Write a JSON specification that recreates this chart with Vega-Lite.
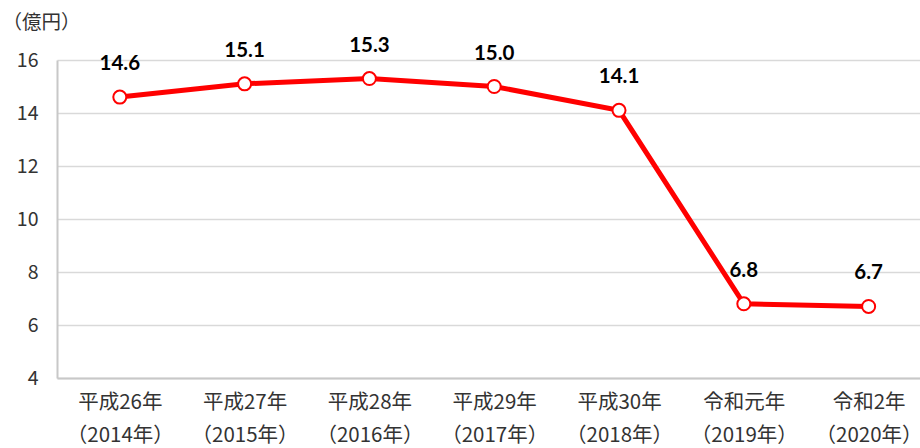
{
  "$schema": "https://vega.github.io/schema/vega-lite/v6.json",
  "autosize": {"type": "none"},
  "width": 863,
  "height": 318,
  "padding": {"left": 57, "top": 60, "right": 0, "bottom": 70},
  "background": "white",
  "config": {"view": {"stroke": null}, "font": "Noto Sans CJK JP"},
  "data": {"values": [
    {"year": "平成26年|（2014年）", "value": 14.6},
    {"year": "平成27年|（2015年）", "value": 15.1},
    {"year": "平成28年|（2016年）", "value": 15.3},
    {"year": "平成29年|（2017年）", "value": 15.0},
    {"year": "平成30年|（2018年）", "value": 14.1},
    {"year": "令和元年|（2019年）", "value": 6.8},
    {"year": "令和2年|（2020年）", "value": 6.7}
  ]},
  "encoding": {
    "x": {"field": "year", "type": "ordinal", "sort": null,
      "scale": {"type": "point", "padding": 0.4575, "align": 0.55},
      "axis": {"title": null, "labelAngle": 0, "labelExpr": "split(datum.label, '|')",
        "labelFontSize": 20.5, "labelColor": "#333333", "labelLineHeight": 33, "labelPadding": 14,
        "ticks": false, "domainColor": "#c8c8c8", "domainWidth": 2, "grid": false, "labelFont": "Noto Sans CJK JP"}},
    "y": {"field": "value", "type": "quantitative",
      "scale": {"domain": [4, 16], "nice": false, "zero": false},
      "axis": {"values": [4, 6, 8, 10, 12, 14, 16], "title": "（億円）", "titleAngle": 0,
        "titleX": -55, "titleY": -38, "titleAlign": "left", "titleBaseline": "middle",
        "titleFontSize": 19.5, "titleFontWeight": "normal", "titleColor": "#333333",
        "labelFontSize": 19.5, "labelColor": "#333333", "labelPadding": 19, "ticks": false,
        "domainColor": "#c8c8c8", "domainWidth": 2, "gridColor": "#d9d9d9", "gridWidth": 1.5}}
  },
  "layer": [
    {"mark": {"type": "line", "color": "#ff0000", "strokeWidth": 5}},
    {"mark": {"type": "point", "filled": true, "fill": "white", "stroke": "#ff0000", "strokeWidth": 2, "size": 170, "opacity": 1}},
    {"mark": {"type": "text", "dy": -33, "fontSize": 20.5, "fontWeight": "bold", "font": "Lato", "color": "#000000"},
      "encoding": {"text": {"field": "value", "type": "quantitative", "format": ".1f"}}}
  ]
}
